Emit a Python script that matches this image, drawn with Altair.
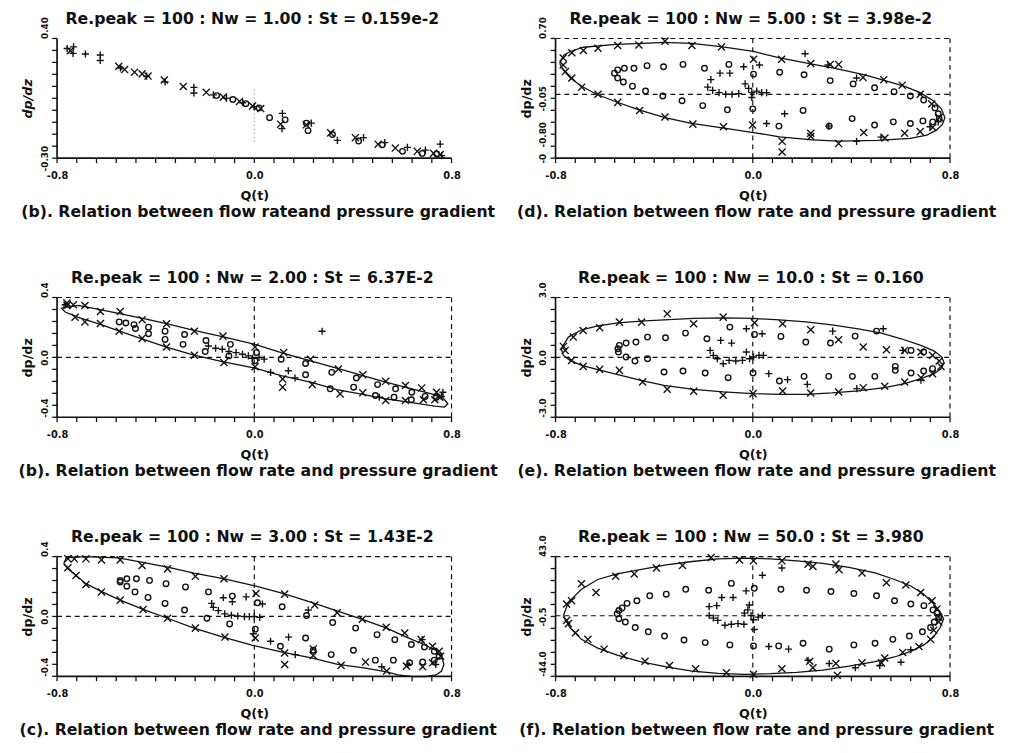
import altair as alt
import pandas as pd

FONT = "DejaVu Sans"
INK = "#111111"

# ---------------- shared tick values ----------------
X_TICKS = [-0.8, -0.72, -0.64, -0.56, -0.48, -0.4, -0.32, -0.24, -0.16, -0.08, 0.0,
           0.08, 0.16, 0.24, 0.32, 0.4, 0.48, 0.56, 0.64, 0.72, 0.8]
X_LABELS = {-0.8: "-0.8", 0.0: "0.0", 0.8: "0.8"}

# ---------------- panel (a): Nw = 1.00 ----------------
A_TITLE = "Re.peak = 100 : Nw = 1.00 : St = 0.159e-2"
A_CAPTION = "(b).   Relation between flow rateand pressure gradient"
A_YDOM = [-0.30, 0.40]
A_YTICKS = [0.40, 0.33, 0.26, 0.19, 0.12, 0.05, -0.02, -0.09, -0.16, -0.23, -0.30]
A_YLABELS = {0.40: "0.40", 0.05: "0.05", -0.16: "-0.30", -0.30: "-0.30"}
A_CROSS = [(-0.746, 0.328), (-0.550, 0.237), (-0.526, 0.218), (-0.486, 0.203), (-0.455, 0.193),
           (-0.431, 0.180), (-0.365, 0.157), (-0.288, 0.119), (-0.195, 0.085), (-0.126, 0.057),
           (-0.060, 0.032), (-0.007, 0.005), (0.026, -0.010), (0.107, -0.101), (0.211, -0.105),
           (0.310, -0.152), (0.410, -0.180), (0.502, -0.218), (0.572, -0.241), (0.661, -0.260),
           (0.727, -0.272), (0.754, -0.279)]
A_CIRCLE = [(-0.153, 0.066), (-0.087, 0.043), (-0.034, 0.019), (0.019, -0.006), (0.062, -0.063),
            (0.125, -0.076), (0.218, -0.139), (0.211, -0.095), (0.317, -0.162), (0.423, -0.200),
            (0.519, -0.222), (0.601, -0.260), (0.681, -0.272), (0.740, -0.275)]
A_PLUS = [(-0.759, 0.341), (-0.733, 0.351), (-0.735, 0.313), (-0.685, 0.309), (-0.625, 0.303),
          (-0.625, 0.271), (-0.543, 0.227), (-0.437, 0.180), (-0.362, 0.146), (-0.245, 0.114),
          (-0.245, 0.081), (-0.166, 0.070), (-0.113, 0.051), (-0.047, 0.024), (-0.001, 0.000),
          (0.114, -0.038), (0.112, -0.127), (0.231, -0.095), (0.337, -0.196), (0.443, -0.180),
          (0.529, -0.209), (0.621, -0.237), (0.694, -0.253), (0.754, -0.218), (0.760, -0.285)]
A_DOTTED = [(0.0, 0.10, -0.22)]

# ---------------- panel (d): Nw = 5.00 ----------------
D_TITLE = "Re.peak = 100 : Nw = 5.00 : St = 3.98e-2"
D_CAPTION = "(d).   Relation between flow rate and pressure gradient"
D_YDOM = [-0.80, 0.70]
D_YTICKS = [0.70, 0.55, 0.40, 0.25, 0.10, -0.05, -0.20, -0.35, -0.50, -0.65, -0.80]
D_YLABELS = {0.70: "0.70", -0.05: "-0.05", -0.50: "-0.80", -0.80: "-0"}
D_LINE = [(-0.783, 0.387), (-0.767, 0.489), (-0.740, 0.537), (-0.687, 0.590), (-0.555, 0.627),
          (-0.422, 0.643), (-0.356, 0.651), (-0.249, 0.639), (-0.130, 0.598), (0.003, 0.537),
          (0.109, 0.456), (0.241, 0.379), (0.334, 0.326), (0.454, 0.245), (0.533, 0.176),
          (0.613, 0.102), (0.679, 0.021), (0.732, -0.080), (0.765, -0.182), (0.779, -0.292),
          (0.769, -0.377), (0.746, -0.446), (0.706, -0.511), (0.639, -0.552), (0.507, -0.576),
          (0.348, -0.585), (0.241, -0.572), (0.109, -0.532), (0.003, -0.479), (-0.130, -0.418),
          (-0.249, -0.365), (-0.356, -0.292), (-0.462, -0.194), (-0.555, -0.093), (-0.634, 0.001),
          (-0.694, 0.102), (-0.740, 0.204), (-0.769, 0.306), (-0.783, 0.387)]
D_CROSS = [(-0.769, 0.456), (-0.769, 0.367), (-0.760, 0.285), (-0.734, 0.521), (-0.687, 0.550),
           (-0.628, 0.578), (-0.548, 0.611), (-0.462, 0.619), (-0.356, 0.667), (-0.247, 0.611),
           (-0.127, 0.594), (0.003, 0.440), (0.117, 0.440), (0.235, 0.387), (0.314, 0.375),
           (0.348, 0.375), (0.447, 0.212), (0.531, 0.184), (0.606, 0.115), (0.679, 0.001),
           (0.726, -0.121), (0.756, -0.292), (0.730, -0.414), (0.679, -0.467), (0.616, -0.487),
           (0.536, -0.548), (0.450, -0.479), (0.348, -0.617), (0.235, -0.487), (0.235, -0.528),
           (0.119, -0.589), (0.119, -0.723), (-0.001, -0.385), (-0.119, -0.406), (-0.243, -0.373),
           (-0.356, -0.284), (-0.459, -0.202), (-0.548, -0.101), (-0.628, 0.001), (-0.694, 0.090),
           (-0.734, 0.204)]
D_CIRCLE = [(-0.561, 0.265), (-0.548, 0.306), (-0.521, 0.326), (-0.482, 0.326), (-0.429, 0.359),
            (-0.362, 0.346), (-0.283, 0.375), (-0.196, 0.326), (-0.097, 0.375), (0.003, 0.253),
            (0.109, 0.277), (0.208, 0.245), (0.314, 0.172), (0.407, 0.131), (0.494, 0.082),
            (0.573, 0.033), (0.639, -0.020), (0.693, -0.072), (0.739, -0.170), (0.752, -0.243),
            (0.756, -0.304), (0.730, -0.345), (0.690, -0.333), (0.639, -0.365), (0.570, -0.345),
            (0.494, -0.385), (0.403, -0.304), (0.310, -0.398), (0.204, -0.202), (0.106, -0.398),
            (0.000, -0.182), (-0.103, -0.194), (-0.203, -0.141), (-0.287, -0.080), (-0.365, -0.020),
            (-0.435, 0.041), (-0.488, 0.102), (-0.525, 0.155), (-0.548, 0.204)]
D_PLUS = [(0.212, 0.509), (-0.037, 0.346), (0.027, 0.367), (-0.093, 0.265), (-0.133, 0.265),
          (-0.170, 0.184), (-0.183, 0.090), (-0.163, 0.050), (-0.137, 0.021), (-0.110, 0.001),
          (-0.084, 0.001), (-0.057, 0.009), (-0.031, 0.131), (-0.017, 0.074), (-0.004, 0.021),
          (0.016, 0.041), (0.036, 0.021), (0.056, 0.021), (-0.004, -0.040), (0.129, -0.243),
          (0.056, -0.365), (0.421, -0.589), (0.520, -0.536), (0.719, -0.406), (0.308, -0.398),
          (0.305, 0.367), (0.421, 0.204), (0.752, -0.345)]

# ---------------- panel (b): Nw = 2.00 ----------------
B_TITLE = "Re.peak = 100 : Nw = 2.00 : St = 6.37E-2"
B_CAPTION = "(b).   Relation between flow rate and pressure gradient"
B_YDOM = [-0.4, 0.4]
B_YTICKS = [0.4, 0.32, 0.24, 0.16, 0.08, 0.0, -0.08, -0.16, -0.24, -0.32, -0.4]
B_YLABELS = {0.4: "0.4", 0.0: "0.0", -0.4: "-0.4"}
B_LINE = [(-0.783, 0.329), (-0.714, 0.347), (-0.621, 0.318), (-0.541, 0.290), (-0.448, 0.259),
          (-0.356, 0.226), (-0.249, 0.182), (-0.130, 0.138), (0.003, 0.087), (0.109, 0.032),
          (0.228, -0.023), (0.334, -0.072), (0.440, -0.122), (0.533, -0.166), (0.639, -0.210),
          (0.719, -0.244), (0.765, -0.270), (0.785, -0.310), (0.772, -0.332), (0.732, -0.325),
          (0.639, -0.303), (0.533, -0.277), (0.440, -0.248), (0.334, -0.215), (0.228, -0.166),
          (0.109, -0.122), (0.003, -0.072), (-0.130, -0.028), (-0.249, 0.017), (-0.356, 0.069),
          (-0.462, 0.127), (-0.555, 0.180), (-0.634, 0.226), (-0.714, 0.268), (-0.767, 0.303),
          (-0.783, 0.329)]
B_CROSS = [(-0.760, 0.363), (-0.734, 0.352), (-0.687, 0.347), (-0.624, 0.307), (-0.544, 0.307),
           (-0.455, 0.252), (-0.356, 0.224), (-0.243, 0.175), (-0.127, 0.142), (0.003, 0.069),
           (0.119, 0.032), (0.228, -0.012), (0.341, -0.078), (0.440, -0.116), (0.533, -0.160),
           (0.613, -0.188), (0.679, -0.204), (0.739, -0.233), (0.752, -0.266), (0.732, -0.283),
           (0.686, -0.283), (0.613, -0.288), (0.533, -0.288), (0.440, -0.237), (0.348, -0.244),
           (0.235, -0.182), (0.115, -0.199), (0.115, -0.144), (0.003, -0.063), (-0.123, -0.034),
           (-0.243, 0.014), (-0.356, 0.069), (-0.455, 0.127), (-0.548, 0.175), (-0.624, 0.226),
           (-0.687, 0.237), (-0.727, 0.268), (-0.760, 0.347)]
B_CIRCLE = [(-0.548, 0.237), (-0.521, 0.230), (-0.488, 0.219), (-0.482, 0.193), (-0.429, 0.202),
            (-0.429, 0.158), (-0.362, 0.175), (-0.362, 0.120), (-0.283, 0.153), (-0.289, 0.087),
            (-0.196, 0.113), (-0.199, 0.039), (-0.097, 0.087), (-0.103, 0.010), (0.009, 0.032),
            (0.003, -0.023), (0.109, -0.012), (0.208, -0.041), (0.208, -0.116), (0.314, -0.100),
            (0.308, -0.210), (0.414, -0.138), (0.403, -0.199), (0.500, -0.182), (0.491, -0.255),
            (0.573, -0.210), (0.567, -0.266), (0.639, -0.233), (0.637, -0.283), (0.693, -0.261),
            (0.739, -0.266)]
B_PLUS = [(-0.767, 0.352), (-0.186, 0.076), (-0.157, 0.061), (-0.130, 0.054), (-0.103, 0.039),
          (-0.074, 0.032), (-0.048, 0.021), (-0.024, 0.010), (-0.008, -0.006), (0.019, -0.001),
          (0.040, -0.012), (0.066, -0.100), (0.138, -0.089), (0.165, -0.138), (0.275, 0.175),
          (0.507, -0.266), (0.759, -0.261), (0.765, -0.233)]

# ---------------- panel (e): Nw = 10.0 ----------------
E_TITLE = "Re.peak = 100 : Nw = 10.0 : St = 0.160"
E_CAPTION = "(e).   Relation between flow rate and pressure gradient"
E_YDOM = [-3.0, 3.0]
E_YTICKS = [3.0, 2.4, 1.8, 1.2, 0.6, 0.0, -0.6, -1.2, -1.8, -2.4, -3.0]
E_YLABELS = {3.0: "3.0", 0.0: "0.0", -3.0: "-3.0"}
E_LINE = [(-0.777, 0.433), (-0.748, 1.017), (-0.694, 1.383), (-0.628, 1.583), (-0.547, 1.733),
          (-0.454, 1.817), (-0.360, 1.883), (-0.240, 1.950), (-0.120, 1.983), (0.001, 1.950),
          (0.108, 1.883), (0.215, 1.783), (0.321, 1.633), (0.428, 1.433), (0.522, 1.217),
          (0.602, 0.933), (0.682, 0.600), (0.736, 0.317), (0.767, 0.017), (0.776, -0.283),
          (0.763, -0.567), (0.736, -0.817), (0.682, -1.067), (0.616, -1.317), (0.535, -1.517),
          (0.428, -1.683), (0.321, -1.783), (0.215, -1.850), (0.108, -1.850), (0.001, -1.817),
          (-0.120, -1.733), (-0.240, -1.600), (-0.360, -1.400), (-0.454, -1.150), (-0.547, -0.867),
          (-0.628, -0.617), (-0.694, -0.400), (-0.741, -0.150), (-0.768, 0.100), (-0.777, 0.433)]
E_CROSS = [(-0.768, 0.550), (-0.761, 0.350), (-0.735, -0.150), (-0.728, 1.017), (-0.688, 1.350),
           (-0.688, -0.450), (-0.621, 1.483), (-0.621, -0.600), (-0.541, 1.767), (-0.541, -0.650),
           (-0.451, 1.767), (-0.447, -1.233), (-0.347, 2.183), (-0.347, -1.600), (-0.240, 1.683),
           (-0.240, -1.700), (-0.120, 2.017), (-0.120, -1.900), (0.007, 1.733), (0.001, -1.817),
           (0.121, 1.683), (0.121, -1.683), (0.235, 1.383), (0.235, -1.783), (0.348, 0.883),
           (0.348, -1.733), (0.448, 0.517), (0.448, -1.517), (0.542, 0.383), (0.535, -1.450),
           (0.616, 0.350), (0.616, -1.233), (0.682, 0.267), (0.682, -1.017), (0.729, 0.100),
           (0.756, -0.183), (0.763, -0.450), (0.729, -0.817)]
E_CIRCLE = [(-0.547, 0.433), (-0.541, 0.600), (-0.514, 0.717), (-0.474, 0.767), (-0.427, 1.017),
            (-0.354, 0.983), (-0.273, 1.217), (-0.186, 0.933), (-0.093, 1.517), (0.007, 1.150),
            (0.114, 1.050), (0.215, 0.767), (0.315, 0.717), (0.415, 1.067), (0.502, 1.317),
            (0.642, 0.350), (0.693, 0.267), (0.729, -0.567), (0.693, -0.683), (0.642, -0.783),
            (0.578, -0.650), (0.578, -0.450), (0.495, -0.950), (0.404, -0.950), (0.308, -0.950),
            (0.208, -0.950), (0.108, -1.183), (0.001, -0.783), (-0.100, -1.017), (-0.193, -0.783),
            (-0.283, -0.683), (-0.360, -0.733), (-0.427, -0.067), (-0.478, -0.183), (-0.514, 0.017),
            (-0.545, 0.267)]
E_PLUS = [(-0.026, 1.433), (-0.130, 0.850), (-0.086, 0.717), (-0.173, 0.350), (-0.160, 0.100),
          (-0.144, -0.067), (-0.120, -0.317), (-0.096, -0.150), (-0.069, -0.183), (-0.042, -0.150),
          (-0.026, 0.267), (-0.013, -0.067), (0.003, 0.017), (0.025, 0.100), (0.043, 0.100),
          (0.038, 1.183), (0.065, -0.817), (0.141, -1.117), (0.221, -1.350), (0.324, 1.317),
          (0.529, 1.433), (0.609, 0.350), (0.422, -1.567), (0.682, -1.150)]

# ---------------- panel (c): Nw = 3.00 ----------------
C_TITLE = "Re.peak = 100 : Nw = 3.00 : St = 1.43E-2"
C_CAPTION = "(c).   Relation between flow rate and pressure gradient"
C_YDOM = [-0.4, 0.4]
C_YTICKS = [0.4, 0.32, 0.24, 0.16, 0.08, 0.0, -0.08, -0.16, -0.24, -0.32, -0.4]
C_YLABELS = {0.4: "0.4", 0.0: "0.0", -0.4: "-0.4"}
C_LINE = [(-0.773, 0.352), (-0.763, 0.391), (-0.683, 0.400), (-0.551, 0.391), (-0.458, 0.363),
          (-0.352, 0.329), (-0.245, 0.290), (-0.126, 0.252), (0.007, 0.202), (0.119, 0.153),
          (0.232, 0.094), (0.338, 0.036), (0.444, -0.023), (0.537, -0.078), (0.617, -0.138),
          (0.683, -0.184), (0.736, -0.226), (0.760, -0.270), (0.769, -0.321), (0.760, -0.365),
          (0.736, -0.391), (0.696, -0.402), (0.643, -0.402), (0.590, -0.393), (0.537, -0.371),
          (0.444, -0.343), (0.338, -0.321), (0.232, -0.277), (0.113, -0.239), (-0.007, -0.193),
          (-0.126, -0.138), (-0.245, -0.078), (-0.352, -0.012), (-0.451, 0.047), (-0.544, 0.109),
          (-0.617, 0.164), (-0.683, 0.219), (-0.723, 0.274), (-0.756, 0.318), (-0.773, 0.352)]
C_CROSS = [(-0.756, 0.385), (-0.730, 0.385), (-0.683, 0.385), (-0.620, 0.378), (-0.544, 0.378),
           (-0.455, 0.340), (-0.352, 0.318), (-0.239, 0.268), (-0.123, 0.252), (0.007, 0.153),
           (0.123, 0.149), (0.245, 0.076), (0.336, 0.025), (0.438, -0.019), (0.535, -0.072),
           (0.610, -0.111), (0.677, -0.155), (0.723, -0.199), (0.750, -0.233), (0.756, -0.266),
           (0.723, -0.310), (0.683, -0.336), (0.617, -0.332), (0.537, -0.365), (0.451, -0.305),
           (0.352, -0.327), (0.239, -0.217), (0.239, -0.261), (0.123, -0.321), (0.123, -0.244),
           (0.004, -0.144), (-0.119, -0.138), (-0.239, -0.078), (-0.352, -0.012), (-0.451, 0.047),
           (-0.544, 0.109), (-0.620, 0.164), (-0.683, 0.213), (-0.723, 0.274), (-0.756, 0.325)]
C_CIRCLE = [(-0.544, 0.241), (-0.517, 0.252), (-0.478, 0.252), (-0.425, 0.241), (-0.358, 0.219),
            (-0.279, 0.197), (-0.186, 0.164), (-0.089, 0.136), (0.013, 0.091), (0.113, 0.065),
            (0.212, 0.006), (0.318, -0.041), (0.411, -0.078), (0.498, -0.122), (0.570, -0.155),
            (0.637, -0.188), (0.690, -0.204), (0.730, -0.233), (0.750, -0.266), (0.730, -0.292),
            (0.683, -0.305), (0.630, -0.310), (0.564, -0.292), (0.491, -0.292), (0.402, -0.226),
            (0.312, -0.255), (0.239, -0.226), (0.208, -0.144), (0.106, -0.199), (0.004, -0.085),
            (-0.100, -0.050), (-0.192, -0.012), (-0.283, 0.043), (-0.362, 0.087), (-0.431, 0.127),
            (-0.484, 0.164), (-0.517, 0.202), (-0.544, 0.230)]
C_PLUS = [(-0.126, 0.125), (-0.089, 0.098), (-0.033, 0.131), (0.033, 0.083), (-0.173, 0.087),
          (-0.166, 0.061), (-0.146, 0.039), (-0.120, 0.017), (-0.093, 0.008), (-0.067, 0.003),
          (-0.040, -0.001), (-0.020, -0.001), (0.000, -0.001), (0.022, -0.006), (-0.004, -0.116),
          (0.066, -0.166), (0.139, -0.138), (0.219, 0.043), (0.166, -0.255), (0.517, -0.336),
          (0.681, -0.155), (0.736, -0.321), (0.623, -0.321)]

# ---------------- panel (f): Nw = 50.0 ----------------
F_TITLE = "Re.peak = 100 : Nw = 50.0 : St = 3.980"
F_CAPTION = "(f).   Relation between flow rate and pressure gradient"
F_YDOM = [-44.0, 43.0]
F_YTICKS = [43.0, 34.3, 25.6, 16.9, 8.2, -0.5, -9.2, -17.9, -26.6, -35.3, -44.0]
F_YLABELS = {43.0: "43.0", -0.5: "-0.5", -44.0: "-44.0"}
F_LINE = [(-0.768, 0.21), (-0.748, 9.72), (-0.695, 19.23), (-0.629, 26.36), (-0.550, 30.40),
          (-0.457, 33.49), (-0.351, 37.06), (-0.246, 39.43), (-0.140, 41.34), (-0.034, 41.81),
          (0.072, 41.34), (0.178, 39.91), (0.284, 38.01), (0.390, 35.16), (0.496, 31.12),
          (0.575, 26.36), (0.641, 21.61), (0.694, 15.66), (0.734, 8.53), (0.760, 2.59),
          (0.774, -2.16), (0.760, -8.58), (0.734, -15.24), (0.694, -21.18), (0.641, -25.93),
          (0.575, -29.97), (0.496, -33.30), (0.390, -36.63), (0.284, -39.48), (0.178, -41.15),
          (0.072, -42.10), (-0.034, -42.57), (-0.140, -41.86), (-0.246, -40.20), (-0.351, -37.11),
          (-0.457, -33.30), (-0.550, -28.55), (-0.629, -23.56), (-0.695, -17.14), (-0.742, -8.58),
          (-0.768, 0.21)]
F_CROSS = [(-0.755, -3.35), (-0.755, 8.53), (-0.735, 10.91), (-0.695, 23.27), (-0.636, 16.85),
           (-0.556, 28.74), (-0.481, 30.40), (-0.391, 34.68), (-0.285, 36.58), (-0.169, 42.29),
           (-0.054, 40.62), (0.003, 39.91), (0.118, 39.91), (0.224, 37.53), (0.244, 35.87),
           (0.337, 37.53), (0.350, 33.49), (0.443, 31.12), (0.542, 23.98), (0.621, 22.32),
           (0.681, 16.85), (0.727, 10.91), (0.747, 4.97), (0.754, -0.97), (0.754, -4.54),
           (0.734, -10.48), (0.721, -17.14), (0.674, -22.37), (0.608, -26.65), (0.535, -30.69),
           (0.443, -34.25), (0.337, -34.73), (0.343, -43.29), (0.244, -37.82), (0.231, -33.06),
           (0.522, -34.25), (0.118, -38.53), (0.003, -42.57), (-0.107, -41.38), (-0.232, -38.53),
           (-0.338, -36.15), (-0.437, -33.06), (-0.523, -29.02), (-0.603, -24.27), (-0.669, -17.14),
           (-0.719, -12.38), (-0.748, -5.73)]
F_CIRCLE = [(-0.550, 1.40), (-0.543, 3.78), (-0.530, 5.68), (-0.510, 9.01), (-0.470, 10.91),
            (-0.418, 14.48), (-0.351, 15.66), (-0.272, 19.23), (-0.179, 18.52), (-0.087, 23.51),
            (0.006, 19.94), (0.114, 19.23), (0.218, 18.52), (0.317, 17.57), (0.410, 16.14),
            (0.502, 14.48), (0.575, 10.91), (0.641, 8.53), (0.694, 7.35), (0.731, 4.26),
            (0.747, 1.88), (0.754, -0.97), (0.736, -4.54), (0.721, -8.58), (0.688, -11.67),
            (0.635, -14.76), (0.568, -17.14), (0.496, -19.99), (0.410, -21.18), (0.310, -24.27),
            (0.204, -19.99), (0.105, -21.89), (0.003, -21.89), (-0.093, -21.18), (-0.193, -19.52),
            (-0.279, -17.61), (-0.358, -14.76), (-0.424, -11.67), (-0.477, -8.58), (-0.517, -4.54),
            (-0.543, -2.16)]
F_PLUS = [(0.118, 34.68), (0.039, 29.45), (-0.080, 13.29), (-0.027, 18.04), (-0.126, 13.29),
          (-0.177, 6.63), (-0.146, 7.35), (-0.177, 0.21), (-0.160, -1.69), (-0.142, -3.35),
          (-0.113, -6.92), (-0.087, -6.20), (-0.060, -5.73), (-0.036, -6.20), (-0.034, 1.88),
          (-0.020, 4.26), (-0.014, 7.82), (-0.007, 0.21), (0.003, -2.88), (0.022, -0.97),
          (0.039, 0.21), (0.006, -10.01), (0.065, -22.37), (0.145, -24.27), (0.224, -32.35),
          (0.310, -34.73), (0.416, -37.82), (0.515, -36.15), (0.601, -33.78), (0.641, -24.74)]

# ---------------- building blocks ----------------
INNER_W, INNER_H = 402, 122     # size of the framed box
M = 2                           # px of scale margin around the framed box
W, H = INNER_W + 2 * M, INNER_H + 2 * M
XDOM = [-0.8, 0.8]
CROSS_PATH = "M-1,-1L1,1M-1,1L1,-1"
PLUS_PATH = "M-1,0L1,0M0,-1L0,1"
XTICK_PATH = "M0,0L0,1"
YTICK_PATH = "M0,0L-1,0"


def label_expr(mapping):
    expr = "''"
    for v, t in mapping.items():
        expr = f"abs(datum.value - ({v})) < 1e-6 ? '{t}' : ({expr})"
    return expr


def pts(pairs):
    return pd.DataFrame({"q": [p[0] for p in pairs], "g": [p[1] for p in pairs]})


def padded(dom, inner):
    pad = (dom[1] - dom[0]) * M / inner
    return [dom[0] - pad, dom[1] + pad]


def text_layer(txt, x, y, size, baseline):
    return alt.Chart(pd.DataFrame({"t": [txt]})).mark_text(
        font=FONT, fontSize=size, fontWeight="bold", color=INK, align="center",
        baseline=baseline).encode(text="t:N", x=alt.value(x), y=alt.value(y))


def frame_table(ydom, dashed):
    """Segments of the panel frame: solid left/bottom, dashed top/right/cross-hairs."""
    segs = [("L", "solid", XDOM[0], ydom[0], XDOM[0], ydom[1]),
            ("B", "solid", XDOM[0], ydom[0], XDOM[1], ydom[0])]
    if dashed:
        segs += [("V0", "dash", 0.0, ydom[0], 0.0, ydom[1]),
                 ("VR", "dash", XDOM[1], ydom[0], XDOM[1], ydom[1]),
                 ("H0", "dash", XDOM[0], 0.0, XDOM[1], 0.0),
                 ("HT", "dash", XDOM[0], ydom[1], XDOM[1], ydom[1])]
    rows = []
    for name, kind, x0, y0, x1, y1 in segs:
        rows.append({"seg": name, "kind": kind, "i": 0, "q": x0, "g": y0})
        rows.append({"seg": name, "kind": kind, "i": 1, "q": x1, "g": y1})
    return pd.DataFrame(rows)


def tick_table(yticks):
    rows = [{"kind": "xt", "q": v, "g": None} for v in X_TICKS]
    rows += [{"kind": "yt", "q": XDOM[0], "g": v} for v in yticks]
    return rows


def panel(title, caption, ydom, yticks, ylabels, cross, circle, plus, line=None,
          dashed=True, dotted=None, italic=False, upward=()):
    xs = alt.Scale(domain=padded(XDOM, INNER_W), nice=False, zero=False)
    ys = alt.Scale(domain=padded(ydom, INNER_H), nice=False, zero=False)
    xaxis = alt.Axis(values=X_TICKS, labelExpr=label_expr(X_LABELS), title="Q(t)",
                     labelFlush=False, labelAngle=0, labelPadding=11, titlePadding=9,
                     domain=False, ticks=False, grid=False, labelFontSize=10)
    test = " || ".join(f"abs(datum.value - ({v})) < 1e-6" for v in upward) or "false"
    yaxis = alt.Axis(values=yticks, labelExpr=label_expr(ylabels), title="dp/dz",
                     labelAngle=270, labelBaseline="bottom",
                     labelAlign={"condition": {"test": test, "value": "left"}, "value": "center"},
                     labelPadding=6, titlePadding=6, labelFlush=False,
                     domain=False, ticks=False, grid=False, labelFontSize=9,
                     titleFontStyle="italic" if italic else "normal")

    def X(f="q:Q"):
        return alt.X(f, scale=xs, axis=xaxis)

    def Y(f="g:Q"):
        return alt.Y(f, scale=ys, axis=yaxis)

    layers = []
    # frame: one layer holding solid and dashed segments together
    layers.append(alt.Chart(frame_table(ydom, dashed)).mark_line(color=INK).encode(
        x=X(), y=Y(), detail="seg:N", order="i:Q",
        strokeDash=alt.StrokeDash("kind:N", legend=None,
                                  scale=alt.Scale(domain=["solid", "dash"],
                                                  range=[[1, 0], [5, 4]])),
        strokeWidth=alt.StrokeWidth("kind:N", legend=None,
                                    scale=alt.Scale(domain=["solid", "dash"],
                                                    range=[1.7, 1.2]))))
    if dotted:
        layers.append(alt.Chart(pts([(d[0], d[1]) for d in dotted] + [(d[0], d[2]) for d in dotted]))
                      .mark_line(strokeDash=[1, 3], color="#777777", strokeWidth=1)
                      .encode(x=X(), y=Y()))
    # tick marks: x ticks and y ticks in one layer (y of x ticks filled by calculate)
    tick_rows = tick_table(yticks)
    tdf = pd.DataFrame({"kind": [r["kind"] for r in tick_rows],
                        "q": [r["q"] for r in tick_rows],
                        "g": [ydom[0] if r["g"] is None else r["g"] for r in tick_rows]})
    layers.append(alt.Chart(tdf).mark_point(filled=False, color=INK, strokeWidth=1.3,
                                            opacity=1, size=100).encode(
        x=X(), y=Y(),
        shape=alt.Shape("kind:N", legend=None,
                        scale=alt.Scale(domain=["xt", "yt"], range=[XTICK_PATH, YTICK_PATH]))))
    if line:
        ld = pts(line)
        ld["i"] = list(range(len(line)))
        layers.append(alt.Chart(ld).mark_line(color=INK, strokeWidth=1.3).encode(
            x=X(), y=Y(), order="i:Q"))
    layers.append(alt.Chart(pts(cross)).mark_point(
        shape=CROSS_PATH, filled=False, color=INK, size=52, strokeWidth=1.4, opacity=1).encode(
        x=X(), y=Y()))
    layers.append(alt.Chart(pts(circle)).mark_point(
        shape="circle", filled=False, color=INK, size=32, strokeWidth=1.4, opacity=1).encode(
        x=X(), y=Y()))
    layers.append(alt.Chart(pts(plus)).mark_point(
        shape=PLUS_PATH, filled=False, color=INK, size=52, strokeWidth=1.4, opacity=1).encode(
        x=X(), y=Y()))
    layers.append(text_layer(title, W / 2 - 2, M - 15, 16, "alphabetic"))
    layers.append(text_layer(caption, W / 2 + 4, H - M + 55, 16, "middle"))
    return alt.layer(*layers).properties(width=W, height=H)


pa = panel(A_TITLE, A_CAPTION, A_YDOM, A_YTICKS, A_YLABELS, A_CROSS, A_CIRCLE, A_PLUS,
           dashed=False, dotted=A_DOTTED, italic=True, upward=(0.40,))
pd_ = panel(D_TITLE, D_CAPTION, D_YDOM, D_YTICKS, D_YLABELS, D_CROSS, D_CIRCLE, D_PLUS, D_LINE,
            upward=(0.70,))
pb = panel(B_TITLE, B_CAPTION, B_YDOM, B_YTICKS, B_YLABELS, B_CROSS, B_CIRCLE, B_PLUS, B_LINE,
           upward=(0.4, -0.4))
pe = panel(E_TITLE, E_CAPTION, E_YDOM, E_YTICKS, E_YLABELS, E_CROSS, E_CIRCLE, E_PLUS, E_LINE,
           upward=(3.0, -3.0))
pc = panel(C_TITLE, C_CAPTION, C_YDOM, C_YTICKS, C_YLABELS, C_CROSS, C_CIRCLE, C_PLUS, C_LINE,
           upward=(0.4, -0.4))
pf = panel(F_TITLE, F_CAPTION, F_YDOM, F_YTICKS, F_YLABELS, F_CROSS, F_CIRCLE, F_PLUS, F_LINE,
           upward=(43.0, -44.0))

chart = alt.concat(pa, pd_, pb, pe, pc, pf, columns=2,
                   spacing={"row": 138, "column": 102}, bounds="flush").properties(
    padding={"left": 5, "top": -4, "right": 2, "bottom": 2}, background="white"
).configure_view(stroke=None).configure_axis(
    grid=False, labelColor=INK, labelFont=FONT, labelFontWeight="bold",
    titleColor=INK, titleFont=FONT, titleFontSize=13, titleFontWeight="bold"
)

chart.save("out.html", embed_options={"renderer": "svg", "actions": False})
